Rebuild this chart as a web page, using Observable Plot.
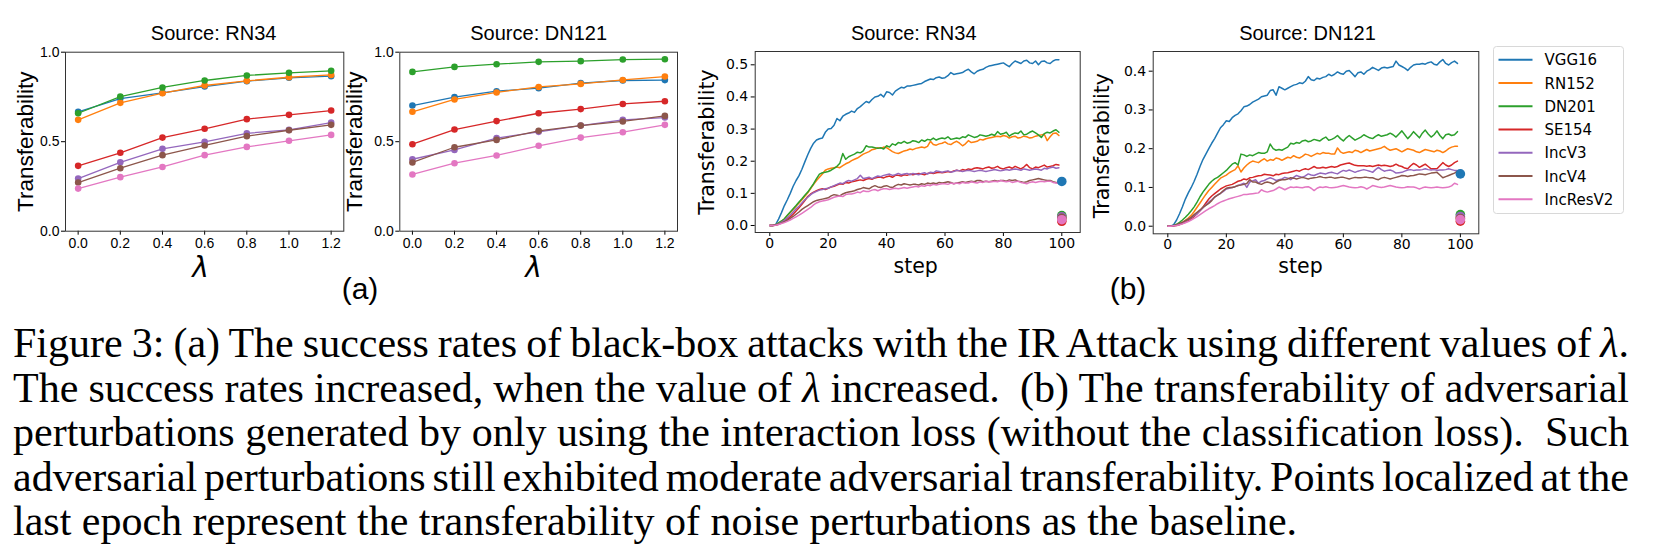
<!DOCTYPE html>
<html><head><meta charset="utf-8">
<script src="https://cdn.jsdelivr.net/npm/d3@7"></script>
<script src="https://cdn.jsdelivr.net/npm/@observablehq/plot@0.6"></script>
<style>
html,body{margin:0;padding:0;background:#fff;}
#fig{position:relative;width:1661px;height:556px;overflow:hidden;background:#fff;}
.cap{position:absolute;left:13px;top:321.3px;width:1616px;font-family:"Liberation Serif","Times New Roman",serif;font-size:42px;line-height:44.5px;color:#000;}
.cap div{white-space:nowrap;}
</style>
</head><body>
<div id="fig"></div>
<script>
const models = ["VGG16","RN152","DN201","SE154","IncV3","IncV4","IncResV2"];
const colors = ["#1f77b4","#ff7f0e","#2ca02c","#d62728","#9467bd","#8c564b","#e377c2"];
const lambdas = [0, 0.2, 0.4, 0.6, 0.8, 1.0, 1.2];
const lambdaTicks = [0, 0.2, 0.4, 0.6, 0.8, 1.0, 1.2];
const lambdaYTicks = [0, 0.5, 1.0];
const stepTicks = [0, 20, 40, 60, 80, 100];
const stepYTicksRN34 = [0, 0.1, 0.2, 0.3, 0.4, 0.5];
const stepYTicksDN121 = [0, 0.1, 0.2, 0.3, 0.4];
const titles = ["Source: RN34", "Source: DN121", "Source: RN34", "Source: DN121"];

// (a) transferability vs lambda, rows in model order
const lambdaRN34 = [
  [0.667,0.741,0.773,0.808,0.838,0.857,0.866],
  [0.622,0.717,0.771,0.814,0.840,0.860,0.873],
  [0.659,0.752,0.803,0.842,0.870,0.885,0.896],
  [0.365,0.438,0.523,0.572,0.626,0.650,0.674],
  [0.294,0.385,0.460,0.499,0.547,0.566,0.607],
  [0.272,0.352,0.425,0.479,0.531,0.564,0.594],
  [0.238,0.302,0.359,0.425,0.471,0.505,0.538]
];
const lambdaDN121 = [
  [0.702,0.749,0.782,0.799,0.827,0.842,0.844],
  [0.667,0.736,0.775,0.806,0.823,0.845,0.864],
  [0.890,0.918,0.933,0.946,0.950,0.959,0.961],
  [0.486,0.568,0.615,0.659,0.682,0.711,0.726],
  [0.402,0.454,0.520,0.555,0.590,0.622,0.635],
  [0.384,0.469,0.510,0.561,0.590,0.613,0.644],
  [0.317,0.380,0.423,0.477,0.523,0.553,0.594]
];

// (b) transferability per step (steps 0..99), rows in model order
const stepRN34 = [
 [0,0,0.003,0.020,0.040,0.062,0.080,0.100,0.122,0.140,
  0.155,0.175,0.198,0.220,0.240,0.256,0.266,0.270,0.272,0.290,
  0.300,0.302,0.312,0.333,0.326,0.340,0.346,0.350,0.356,0.352,
  0.364,0.370,0.378,0.386,0.382,0.392,0.400,0.402,0.408,0.400,
  0.416,0.414,0.406,0.418,0.424,0.430,0.428,0.434,0.434,0.436,
  0.438,0.440,0.442,0.448,0.452,0.456,0.454,0.460,0.462,0.458,
  0.460,0.466,0.476,0.470,0.472,0.474,0.476,0.482,0.486,0.478,
  0.472,0.480,0.484,0.486,0.492,0.496,0.498,0.500,0.502,0.504,
  0.506,0.500,0.494,0.504,0.512,0.508,0.504,0.512,0.514,0.506,
  0.504,0.512,0.500,0.510,0.512,0.506,0.504,0.512,0.516,0.516],
 [0,0,0.002,0.007,0.013,0.020,0.030,0.040,0.050,0.060,
  0.070,0.080,0.091,0.102,0.115,0.128,0.140,0.150,0.160,0.172,
  0.176,0.178,0.180,0.182,0.180,0.186,0.192,0.196,0.202,0.206,
  0.210,0.216,0.222,0.226,0.230,0.236,0.238,0.242,0.240,0.244,
  0.242,0.236,0.230,0.226,0.224,0.228,0.232,0.234,0.238,0.236,
  0.240,0.242,0.244,0.242,0.246,0.262,0.252,0.250,0.254,0.256,
  0.260,0.254,0.252,0.258,0.262,0.256,0.248,0.254,0.264,0.258,
  0.260,0.262,0.268,0.266,0.270,0.272,0.274,0.276,0.278,0.276,
  0.280,0.278,0.272,0.276,0.278,0.272,0.274,0.278,0.276,0.272,
  0.274,0.278,0.280,0.282,0.284,0.264,0.276,0.286,0.288,0.280],
 [0,0,0.002,0.008,0.014,0.021,0.032,0.042,0.052,0.062,
  0.073,0.083,0.094,0.104,0.117,0.130,0.146,0.160,0.164,0.166,
  0.168,0.172,0.178,0.184,0.194,0.224,0.206,0.214,0.218,0.222,
  0.228,0.226,0.232,0.248,0.244,0.244,0.242,0.240,0.242,0.238,
  0.248,0.244,0.254,0.250,0.258,0.256,0.262,0.256,0.258,0.264,
  0.262,0.258,0.266,0.262,0.268,0.266,0.272,0.266,0.270,0.272,
  0.270,0.276,0.268,0.270,0.272,0.270,0.276,0.274,0.282,0.278,
  0.274,0.276,0.282,0.280,0.278,0.280,0.284,0.280,0.292,0.284,
  0.286,0.290,0.278,0.284,0.288,0.286,0.294,0.282,0.284,0.290,
  0.294,0.288,0.282,0.274,0.286,0.290,0.288,0.294,0.298,0.290],
 [0,0,0.001,0.004,0.008,0.014,0.020,0.027,0.035,0.045,
  0.055,0.066,0.078,0.090,0.098,0.104,0.108,0.112,0.114,0.112,
  0.116,0.120,0.122,0.126,0.130,0.128,0.134,0.132,0.136,0.138,
  0.140,0.142,0.140,0.144,0.146,0.144,0.148,0.150,0.150,0.148,
  0.152,0.154,0.150,0.156,0.156,0.154,0.158,0.156,0.160,0.158,
  0.160,0.162,0.160,0.158,0.162,0.164,0.162,0.164,0.166,0.164,
  0.166,0.168,0.166,0.170,0.172,0.170,0.174,0.172,0.176,0.174,
  0.178,0.180,0.178,0.176,0.180,0.182,0.178,0.180,0.184,0.178,
  0.176,0.180,0.182,0.178,0.184,0.180,0.176,0.182,0.190,0.180,
  0.176,0.182,0.180,0.184,0.188,0.182,0.184,0.186,0.190,0.188],
 [0,0,0.002,0.005,0.010,0.016,0.024,0.032,0.042,0.052,
  0.060,0.070,0.080,0.088,0.096,0.102,0.106,0.110,0.112,0.114,
  0.116,0.120,0.124,0.128,0.132,0.130,0.136,0.140,0.138,0.142,
  0.146,0.156,0.146,0.148,0.150,0.146,0.150,0.154,0.152,0.156,
  0.158,0.160,0.156,0.158,0.162,0.158,0.160,0.162,0.158,0.162,
  0.160,0.158,0.162,0.164,0.160,0.166,0.164,0.170,0.168,0.166,
  0.168,0.170,0.166,0.168,0.172,0.170,0.168,0.170,0.172,0.170,
  0.168,0.170,0.172,0.170,0.168,0.170,0.172,0.174,0.172,0.170,
  0.172,0.174,0.172,0.174,0.176,0.174,0.172,0.176,0.174,0.172,
  0.174,0.176,0.174,0.172,0.178,0.176,0.180,0.182,0.178,0.180],
 [0,0,0.002,0.004,0.008,0.012,0.016,0.022,0.028,0.035,
  0.042,0.050,0.056,0.062,0.068,0.074,0.078,0.080,0.082,0.084,
  0.086,0.092,0.096,0.094,0.092,0.098,0.102,0.104,0.106,0.108,
  0.112,0.114,0.118,0.116,0.114,0.120,0.124,0.120,0.118,0.122,
  0.124,0.120,0.118,0.124,0.128,0.126,0.130,0.128,0.126,0.128,
  0.128,0.126,0.130,0.128,0.132,0.130,0.132,0.130,0.134,0.132,
  0.134,0.136,0.134,0.130,0.132,0.134,0.136,0.134,0.136,0.138,
  0.136,0.140,0.140,0.136,0.138,0.136,0.138,0.140,0.138,0.140,
  0.140,0.138,0.142,0.140,0.142,0.138,0.136,0.134,0.136,0.140,
  0.142,0.144,0.146,0.144,0.142,0.140,0.140,0.136,0.134,0.132],
 [0,0,0.001,0.003,0.006,0.009,0.013,0.017,0.022,0.027,
  0.032,0.038,0.044,0.050,0.056,0.064,0.070,0.074,0.076,0.078,
  0.080,0.084,0.088,0.090,0.092,0.090,0.096,0.098,0.098,0.100,
  0.104,0.102,0.108,0.106,0.106,0.110,0.112,0.108,0.112,0.114,
  0.114,0.112,0.114,0.116,0.114,0.116,0.118,0.116,0.118,0.120,
  0.122,0.120,0.124,0.122,0.126,0.124,0.128,0.126,0.128,0.130,
  0.130,0.128,0.132,0.130,0.132,0.130,0.134,0.132,0.132,0.136,
  0.134,0.132,0.136,0.134,0.138,0.136,0.136,0.138,0.136,0.140,
  0.138,0.136,0.138,0.134,0.136,0.138,0.134,0.132,0.130,0.134,
  0.136,0.134,0.136,0.138,0.136,0.138,0.138,0.134,0.132,0.132]
];
const stepDN121 = [
 [0,0,0.004,0.016,0.032,0.050,0.070,0.086,0.100,0.116,
  0.134,0.154,0.172,0.186,0.200,0.214,0.226,0.240,0.254,0.262,
  0.272,0.270,0.280,0.286,0.290,0.298,0.308,0.310,0.314,0.320,
  0.324,0.328,0.334,0.336,0.338,0.350,0.352,0.338,0.360,0.356,
  0.352,0.356,0.360,0.364,0.366,0.370,0.368,0.374,0.386,0.378,
  0.376,0.382,0.380,0.384,0.386,0.392,0.388,0.392,0.398,0.394,
  0.392,0.400,0.402,0.394,0.386,0.396,0.398,0.392,0.400,0.404,
  0.410,0.406,0.402,0.408,0.410,0.408,0.410,0.412,0.426,0.416,
  0.412,0.408,0.402,0.410,0.416,0.418,0.418,0.420,0.418,0.422,
  0.424,0.418,0.416,0.424,0.430,0.420,0.416,0.422,0.426,0.420],
 [0,0,0.001,0.003,0.006,0.010,0.015,0.021,0.028,0.038,
  0.049,0.060,0.071,0.082,0.092,0.100,0.108,0.116,0.124,0.128,
  0.132,0.138,0.142,0.146,0.156,0.140,0.150,0.158,0.164,0.168,
  0.166,0.164,0.170,0.174,0.168,0.172,0.170,0.176,0.174,0.170,
  0.174,0.178,0.176,0.182,0.178,0.176,0.180,0.186,0.184,0.180,
  0.184,0.188,0.186,0.190,0.188,0.188,0.186,0.186,0.202,0.192,
  0.188,0.190,0.192,0.190,0.196,0.194,0.190,0.194,0.198,0.194,
  0.196,0.198,0.200,0.202,0.206,0.200,0.196,0.198,0.200,0.196,
  0.192,0.196,0.200,0.198,0.196,0.192,0.190,0.194,0.198,0.196,
  0.194,0.192,0.196,0.194,0.190,0.194,0.200,0.204,0.206,0.206],
 [0,0,0.002,0.005,0.010,0.016,0.023,0.031,0.040,0.050,
  0.062,0.076,0.088,0.098,0.108,0.116,0.122,0.126,0.132,0.138,
  0.144,0.152,0.160,0.164,0.158,0.186,0.184,0.180,0.184,0.182,
  0.186,0.190,0.188,0.188,0.192,0.212,0.200,0.196,0.198,0.196,
  0.200,0.204,0.214,0.212,0.216,0.214,0.220,0.222,0.218,0.220,
  0.224,0.222,0.220,0.226,0.230,0.222,0.224,0.228,0.234,0.226,
  0.220,0.228,0.234,0.228,0.222,0.226,0.230,0.236,0.232,0.228,
  0.226,0.232,0.236,0.232,0.234,0.236,0.240,0.236,0.230,0.238,
  0.246,0.236,0.226,0.234,0.244,0.236,0.228,0.240,0.248,0.238,
  0.230,0.236,0.246,0.234,0.226,0.236,0.238,0.234,0.236,0.244],
 [0,0,0.001,0.002,0.004,0.007,0.010,0.014,0.019,0.025,
  0.032,0.040,0.049,0.060,0.070,0.078,0.084,0.090,0.096,0.100,
  0.104,0.106,0.108,0.112,0.116,0.118,0.122,0.120,0.125,0.126,
  0.128,0.130,0.131,0.134,0.133,0.132,0.130,0.134,0.133,0.136,
  0.137,0.138,0.140,0.142,0.144,0.142,0.146,0.148,0.146,0.150,
  0.154,0.150,0.150,0.152,0.150,0.152,0.154,0.152,0.154,0.158,
  0.160,0.162,0.163,0.160,0.157,0.156,0.156,0.156,0.155,0.156,
  0.154,0.156,0.158,0.156,0.157,0.156,0.154,0.156,0.160,0.156,
  0.154,0.150,0.148,0.156,0.162,0.158,0.152,0.156,0.160,0.154,
  0.148,0.148,0.148,0.156,0.164,0.158,0.154,0.158,0.164,0.168],
 [0,0,0.001,0.003,0.006,0.009,0.013,0.018,0.022,0.027,
  0.032,0.040,0.047,0.055,0.062,0.068,0.075,0.080,0.085,0.090,
  0.096,0.098,0.100,0.102,0.105,0.108,0.111,0.100,0.114,0.117,
  0.120,0.111,0.116,0.118,0.122,0.125,0.122,0.118,0.120,0.122,
  0.126,0.124,0.120,0.126,0.131,0.128,0.126,0.130,0.135,0.132,
  0.131,0.134,0.137,0.136,0.135,0.138,0.139,0.137,0.135,0.140,
  0.144,0.142,0.145,0.142,0.139,0.142,0.144,0.146,0.144,0.142,
  0.139,0.146,0.152,0.146,0.142,0.144,0.145,0.142,0.137,0.138,
  0.139,0.142,0.145,0.146,0.144,0.145,0.145,0.146,0.148,0.146,
  0.145,0.146,0.144,0.145,0.145,0.146,0.148,0.146,0.144,0.144],
 [0,0,0.002,0.004,0.007,0.010,0.014,0.018,0.023,0.030,
  0.036,0.042,0.049,0.054,0.059,0.066,0.075,0.080,0.085,0.092,
  0.098,0.100,0.100,0.102,0.105,0.106,0.108,0.110,0.120,0.114,
  0.114,0.110,0.108,0.112,0.114,0.112,0.109,0.114,0.118,0.120,
  0.120,0.122,0.125,0.124,0.122,0.124,0.126,0.124,0.122,0.124,
  0.125,0.126,0.128,0.126,0.125,0.126,0.126,0.124,0.125,0.126,
  0.126,0.124,0.122,0.124,0.126,0.125,0.125,0.126,0.126,0.125,
  0.125,0.122,0.120,0.124,0.126,0.124,0.122,0.124,0.126,0.128,
  0.131,0.130,0.128,0.130,0.131,0.133,0.135,0.134,0.133,0.135,
  0.137,0.138,0.139,0.132,0.125,0.128,0.131,0.134,0.137,0.142],
 [0,0,0.001,0.002,0.004,0.006,0.009,0.012,0.016,0.020,
  0.025,0.030,0.035,0.040,0.045,0.049,0.053,0.058,0.062,0.065,
  0.068,0.071,0.073,0.075,0.077,0.079,0.082,0.082,0.083,0.084,
  0.085,0.086,0.094,0.090,0.088,0.090,0.092,0.096,0.101,0.098,
  0.094,0.098,0.101,0.100,0.101,0.100,0.099,0.101,0.102,0.098,
  0.092,0.098,0.101,0.100,0.102,0.100,0.099,0.100,0.101,0.103,
  0.105,0.103,0.101,0.100,0.099,0.100,0.102,0.100,0.096,0.100,
  0.105,0.103,0.101,0.100,0.101,0.103,0.105,0.103,0.101,0.100,
  0.099,0.100,0.102,0.101,0.101,0.099,0.096,0.099,0.101,0.100,
  0.099,0.100,0.101,0.100,0.099,0.100,0.101,0.104,0.111,0.108]
];
// noise-perturbation baselines at the last epoch (step 100)
const baselineStep = 100;
const baselineRN34 = [0.137,0.025,0.031,0.013,0.027,0.022,0.018];
const baselineDN121 = [0.135,0.022,0.030,0.013,0.025,0.020,0.017];

const fig = document.getElementById("fig");
const fmt1 = d3.format(".1f");
const fmtInt = d3.format("d");

function lambdaMarks(M) {
  return models.flatMap((m, i) => {
    const d = lambdas.map((l, j) => ({model: m, x: l, y: M[i][j]}));
    return [
      Plot.line(d, {x: "x", y: "y", stroke: colors[i], strokeWidth: 1.3}),
      Plot.dot(d, {x: "x", y: "y", r: 3.3, fill: colors[i], stroke: "none"})
    ];
  });
}
function stepMarks(M, B) {
  const lines = models.map((m, i) => {
    const d = M[i].map((v, s) => ({model: m, x: s, y: v}));
    return Plot.line(d, {x: "x", y: "y", stroke: colors[i], strokeWidth: 1.5});
  });
  const dots = models.map((m, i) =>
    Plot.dot([{model: m, x: baselineStep, y: B[i]}], {x: "x", y: "y", r: 4.8, fill: colors[i], stroke: "none"}));
  return [...lines, ...dots];
}

function makePanel(o) {
  const chart = Plot.plot({
    width: o.width, height: 290,
    marginLeft: o.ml, marginRight: o.mr, marginTop: o.mt, marginBottom: o.mb,
    x: {domain: o.xDomain, ticks: o.xTicks, tickFormat: o.xFmt, tickSize: 4, tickPadding: o.padX, label: null},
    y: {domain: o.yDomain, ticks: o.yTicks, tickFormat: o.yFmt, tickSize: 4, tickPadding: o.padY, label: null},
    style: {background: "transparent", fontFamily: o.tickFont, fontSize: "14px", color: "#000", overflow: "visible"},
    marks: [
      ...o.marks,
      Plot.frame({stroke: "#333", strokeWidth: 1}),
      Plot.text([o.title], {text: d => d, frameAnchor: "top", textAnchor: "middle", lineAnchor: "middle",
        dx: o.titleDx, dy: o.titleDy, fontSize: 20, fontFamily: "Liberation Sans, Arial, sans-serif", fill: "#000"}),
      Plot.text([o.ylab], {text: d => d, frameAnchor: "left", rotate: -90, textAnchor: "middle", lineAnchor: "middle",
        dx: o.ylabDx, dy: o.ylabDy, fontSize: o.ylabSize, fontFamily: o.labFont, fill: "#000"}),
      Plot.text([o.xlab], {text: d => d, frameAnchor: "bottom", textAnchor: "middle", lineAnchor: "middle",
        dx: o.xlabDx, dy: o.xlabDy, fontSize: o.xlabSize, fontFamily: o.xlabFont, fontStyle: o.xlabStyle || "normal", fill: "#000"})
    ]
  });
  chart.style.position = "absolute";
  chart.style.left = o.left + "px";
  chart.style.top = "0px";
  fig.appendChild(chart);
}

const lamCommon = {
  xDomain: [-0.06, 1.26], yDomain: [0, 1], xTicks: lambdaTicks, yTicks: lambdaYTicks,
  xFmt: fmt1, yFmt: fmt1, padX: 2.5, padY: 2, tickFont: "Liberation Sans, Arial, sans-serif",
  ylab: "Transferability", ylabSize: 22.5, labFont: "Liberation Sans, Arial, sans-serif",
  xlab: "λ", xlabSize: 28, xlabFont: "DejaVu Sans, sans-serif", xlabStyle: "italic", xlabDy: 37.3,
  mt: 51.7, mb: 59.3
};
makePanel({...lamCommon, left: 0, width: 350, ml: 65, mr: 6.7, marks: lambdaMarks(lambdaRN34),
  title: titles[0], titleDx: 9, titleDy: -18.8, ylabDx: -39.9, ylabDy: 0, xlabDx: -4});
makePanel({...lamCommon, left: 345, width: 340, ml: 54.3, mr: 8, marks: lambdaMarks(lambdaDN121),
  title: titles[1], titleDx: 0, titleDy: -18.8, ylabDx: -45.2, ylabDy: 0, xlabDx: -5});

const stepCommon = {
  xDomain: [-5, 106.3], xTicks: stepTicks, xFmt: fmtInt, yFmt: fmt1, padX: 1.5, padY: 3,
  tickFont: "DejaVu Sans, sans-serif", ylab: "Transferability", ylabSize: 20.5, labFont: "DejaVu Sans, sans-serif",
  xlab: "step", xlabSize: 20.5, xlabFont: "DejaVu Sans, sans-serif", mt: 51
};
makePanel({...stepCommon, left: 685, width: 400, ml: 69.7, mr: 5.3, mb: 58,
  yDomain: [-0.0218, 0.5414], yTicks: stepYTicksRN34, marks: stepMarks(stepRN34, baselineRN34),
  title: titles[2], titleDx: -4, titleDy: -18.1, ylabDx: -47.8, ylabDy: 0, xlabDx: -2, xlabDy: 33.7});
makePanel({...stepCommon, left: 1085, width: 400, ml: 67.7, mr: 6.7, mb: 56.7,
  yDomain: [-0.0196, 0.4508], yTicks: stepYTicksDN121, marks: stepMarks(stepDN121, baselineDN121),
  title: titles[3], titleDx: -8.5, titleDy: -18.1, ylabDx: -50.7, ylabDy: 3, xlabDx: -15.5, xlabDy: 32.8});

// sub-figure labels
const subLabels = [{t: "(a)", x: 360}, {t: "(b)", x: 1128}];
const ns = "http://www.w3.org/2000/svg";
const over = document.createElementNS(ns, "svg");
over.setAttribute("width", 1661); over.setAttribute("height", 320);
over.style.position = "absolute"; over.style.left = "0"; over.style.top = "0";
subLabels.forEach(s => {
  const t = document.createElementNS(ns, "text");
  t.setAttribute("x", s.x); t.setAttribute("y", 298.6);
  t.setAttribute("text-anchor", "middle");
  t.setAttribute("font-family", "Liberation Sans, Arial, sans-serif");
  t.setAttribute("font-size", 30);
  t.textContent = s.t;
  over.appendChild(t);
});
fig.appendChild(over);

// legend
const leg = document.createElementNS(ns, "svg");
leg.setAttribute("width", 131); leg.setAttribute("height", 168);
leg.style.position = "absolute"; leg.style.left = "1492.5px"; leg.style.top = "45.5px";
const box = document.createElementNS(ns, "rect");
box.setAttribute("x", 0.5); box.setAttribute("y", 0.5); box.setAttribute("width", 130); box.setAttribute("height", 167);
box.setAttribute("rx", 3); box.setAttribute("fill", "#fff"); box.setAttribute("stroke", "#d8d8d8");
leg.appendChild(box);
models.forEach((m, i) => {
  const yy = 13.8 + 23.25 * i;
  const ln = document.createElementNS(ns, "line");
  ln.setAttribute("x1", 5.5); ln.setAttribute("x2", 39.5); ln.setAttribute("y1", yy); ln.setAttribute("y2", yy);
  ln.setAttribute("stroke", colors[i]); ln.setAttribute("stroke-width", 2);
  leg.appendChild(ln);
  const t = document.createElementNS(ns, "text");
  t.setAttribute("x", 51.5); t.setAttribute("y", yy + 5.5);
  t.setAttribute("font-family", "DejaVu Sans, sans-serif"); t.setAttribute("font-size", 15);
  t.textContent = m;
  leg.appendChild(t);
});
fig.appendChild(leg);

// caption (justified line by line, like the typeset original)
const captionLines = [
  "Figure 3: (a) The success rates of black-box attacks with the IR Attack using different values of <i>λ</i>.",
  "The success rates increased, when the value of <i>λ</i> increased. &nbsp;(b) The transferability of adversarial",
  "perturbations generated by only using the interaction loss (without the classification loss). &nbsp;Such",
  "adversarial perturbations still exhibited moderate adversarial transferability. Points localized at the",
  "last epoch represent the transferability of noise perturbations as the baseline."
];
const capWidth = 1616;
const cap = document.createElement("div");
cap.className = "cap";
const spans = captionLines.map(l => {
  const d = document.createElement("div");
  const s = document.createElement("span");
  s.innerHTML = l;
  d.appendChild(s);
  cap.appendChild(d);
  return s;
});
fig.appendChild(cap);
function justify() {
  spans.forEach((s, i) => {
    s.style.wordSpacing = "0px";
    s.style.display = "inline-block";
    s.style.transformOrigin = "0 0";
    s.style.transform = "none";
    const w = s.getBoundingClientRect().width;
    if (i < spans.length - 1) {
      const n = (s.textContent.match(/[ \u00a0]/g) || []).length;
      let ws = (capWidth - w) / n;
      if (ws < -5) ws = -5;
      s.style.wordSpacing = ws + "px";
      const w2 = s.getBoundingClientRect().width;
      if (w2 > capWidth + 0.5) s.style.transform = `scaleX(${capWidth / w2})`;
    } else if (w > capWidth) {
      s.style.transform = `scaleX(${capWidth / w})`;
    }
  });
}
justify();
if (document.fonts && document.fonts.ready) document.fonts.ready.then(justify);
</script>
</body></html>
